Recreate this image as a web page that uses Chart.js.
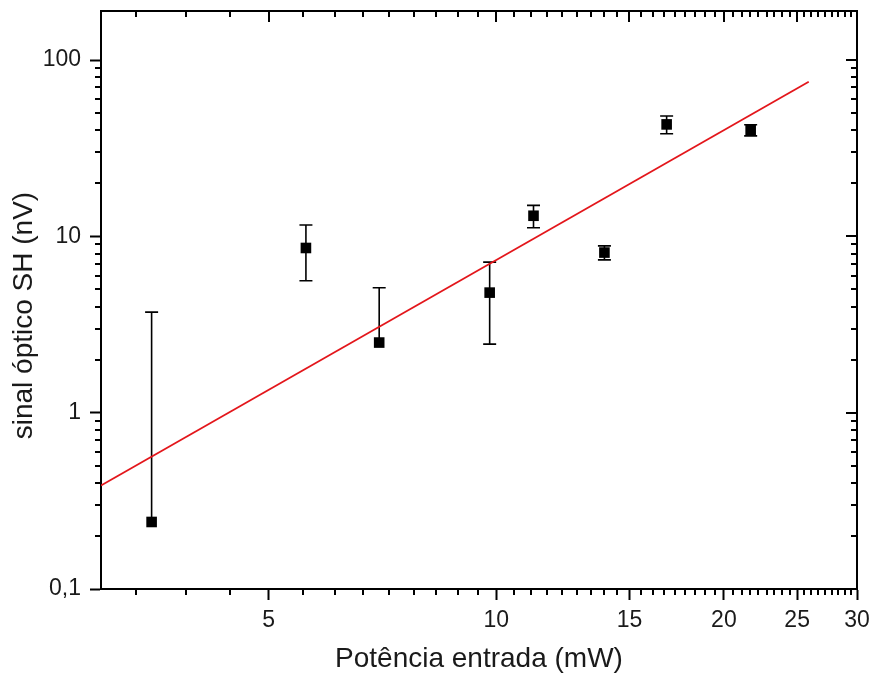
<!DOCTYPE html>
<html>
<head>
<meta charset="utf-8">
<title>Sinal SH x potencia</title>
<script src="https://cdn.jsdelivr.net/npm/chart.js@4.4.0/dist/chart.umd.min.js"></script>
<style>
  html, body { margin: 0; padding: 0; background: #fff; }
  canvas { display: block; }
</style>
</head>
<body>
<canvas id="grafico" width="869" height="676"></canvas>
<script>
// dados (log-log)
const potencia = [3.5, 5.6, 7.0, 9.8, 11.2, 13.9, 16.8, 21.7];
const sinal = [0.24, 8.6, 2.5, 4.8, 13.1, 8.1, 43.2, 40.1];
const erro = [3.48, 3.0, 2.62, 2.35, 1.9, 0.74, 5.0, 2.9];

// reta do ajuste (extremos)
const ajusteX = [3, 25.9];
const ajusteY = [0.386, 75.5];

const ticksX = [5, 10, 15, 20, 25, 30];
const ticksY = [0.1, 1, 10, 100];

const xMin = 3, xMax = 30;
const yMin = 0.1, yMax = 190;

const fonte = "'Liberation Sans', Arial, sans-serif";

// ticks menores: 8 entre cada major no eixo x, 2..9 por decada no y
const menoresX = [];
for (let i = 0; i < ticksX.length; i++) {
  for (let k = 1; k <= 8; k++) {
    const v = ticksX[i] + k * 5 / 9;
    if (v < xMax) menoresX.push(v);
    const w = ticksX[i] - k * 5 / 9;
    if (i === 0 && w > xMin) menoresX.push(w);
  }
}
const menoresY = [];
ticksY.forEach((d) => {
  for (let m = 2; m <= 9; m++) {
    if (d * m < yMax) menoresY.push(d * m);
  }
});

const pontos = potencia.map((x, i) => ({ x: x, y: sinal[i] }));
const reta = ajusteX.map((x, i) => ({ x: x, y: ajusteY[i] }));

const barrasErro = {
  id: "barrasErro",
  beforeDatasetsDraw(chart) {
    const ctx = chart.ctx;
    const sx = chart.scales.x, sy = chart.scales.y;
    const area = chart.chartArea;
    ctx.save();
    ctx.beginPath();
    ctx.rect(area.left, area.top, area.right - area.left, area.bottom - area.top);
    ctx.clip();
    ctx.strokeStyle = "#000";
    ctx.lineWidth = 1.6;
    pontos.forEach((p, i) => {
      const px = sx.getPixelForValue(p.x);
      const py = sy.getPixelForValue(p.y);
      const topo = sy.getPixelForValue(p.y + erro[i]);
      ctx.beginPath();
      ctx.moveTo(px, py);
      ctx.lineTo(px, topo);
      ctx.moveTo(px - 6.5, topo);
      ctx.lineTo(px + 6.5, topo);
      const inf = p.y - erro[i];
      if (inf > 0) {
        const base = sy.getPixelForValue(inf);
        ctx.moveTo(px, py);
        ctx.lineTo(px, base);
        ctx.moveTo(px - 6.5, base);
        ctx.lineTo(px + 6.5, base);
      }
      ctx.stroke();
    });
    ctx.restore();
  },
};

// moldura, ticks menores e ticks espelhados (topo/direita)
const moldura = {
  id: "moldura",
  afterDraw(chart) {
    const ctx = chart.ctx;
    const sx = chart.scales.x, sy = chart.scales.y;
    const a = chart.chartArea;
    ctx.save();
    ctx.strokeStyle = "#000";
    ctx.lineWidth = 2;
    ctx.beginPath();
    ctx.moveTo(a.left, a.top);
    ctx.lineTo(a.right, a.top);
    ctx.lineTo(a.right, a.bottom);
    ctx.stroke();

    ctx.beginPath();
    ticksX.forEach((v) => {
      const px = Math.round(sx.getPixelForValue(v));
      ctx.moveTo(px, a.top);
      ctx.lineTo(px, a.top + 11);
    });
    menoresX.forEach((v) => {
      const px = Math.round(sx.getPixelForValue(v));
      ctx.moveTo(px, a.bottom);
      ctx.lineTo(px, a.bottom + 6);
      ctx.moveTo(px, a.top);
      ctx.lineTo(px, a.top + 6);
    });
    ticksY.forEach((v) => {
      const py = Math.round(sy.getPixelForValue(v));
      ctx.moveTo(a.right, py);
      ctx.lineTo(a.right - 11, py);
    });
    menoresY.forEach((v) => {
      const py = Math.round(sy.getPixelForValue(v));
      ctx.moveTo(a.left, py);
      ctx.lineTo(a.left - 6, py);
      ctx.moveTo(a.right, py);
      ctx.lineTo(a.right - 6, py);
    });
    ctx.stroke();
    ctx.restore();
  },
};

new Chart(document.getElementById("grafico"), {
  type: "scatter",
  data: {
    datasets: [
      {
        label: "ajuste",
        type: "line",
        data: reta,
        borderColor: "#e3161b",
        borderWidth: 1.8,
        pointRadius: 0,
        fill: false,
        order: 0,
      },
      {
        label: "sinal",
        data: pontos,
        pointStyle: "rect",
        pointRadius: 7.5,
        pointHoverRadius: 7.5,
        backgroundColor: "#000",
        borderColor: "#000",
        borderWidth: 0,
        order: 1,
      },
    ],
  },
  options: {
    responsive: false,
    animation: false,
    devicePixelRatio: 1,
    layout: { padding: { top: 11, right: 12, left: 0, bottom: 0 } },
    plugins: {
      legend: { display: false },
      tooltip: { enabled: false },
    },
    scales: {
      x: {
        type: "logarithmic",
        min: xMin,
        max: xMax,
        afterBuildTicks: (s) => {
          s.ticks = ticksX.map((v) => ({ value: v }));
        },
        afterFit: (s) => {
          s.height = 87;
          s.paddingLeft = 0;
          s.paddingRight = 0;
        },
        ticks: {
          autoSkip: false,
          maxRotation: 0,
          padding: 7,
          color: "#1a1a1a",
          font: { family: fonte, size: 23 },
          callback: (v) => String(v),
        },
        grid: {
          drawOnChartArea: false,
          tickLength: 11,
          tickWidth: 2,
          color: "#000",
        },
        border: { display: true, color: "#000", width: 2 },
        title: {
          display: true,
          text: "Potência entrada (mW)",
          color: "#1a1a1a",
          font: { family: fonte, size: 28 },
          padding: { top: 0, bottom: 0 },
        },
      },
      y: {
        type: "logarithmic",
        min: yMin,
        max: yMax,
        afterBuildTicks: (s) => {
          s.ticks = ticksY.map((v) => ({ value: v }));
        },
        afterFit: (s) => {
          s.width = 101;
          s.paddingTop = 0;
          s.paddingBottom = 0;
        },
        ticks: {
          autoSkip: false,
          padding: 9,
          color: "#1a1a1a",
          font: { family: fonte, size: 23 },
          callback: (v) => String(v).replace(".", ","),
        },
        grid: {
          drawOnChartArea: false,
          tickLength: 11,
          tickWidth: 2,
          color: "#000",
        },
        border: { display: true, color: "#000", width: 2 },
        title: {
          display: true,
          // espacos no fim descem um pouco o titulo, como no original
          text: "sinal óptico SH (nV)    ",
          color: "#1a1a1a",
          font: { family: fonte, size: 28 },
          padding: { top: 7, bottom: 0 },
        },
      },
    },
  },
  plugins: [barrasErro, moldura],
});
</script>
</body>
</html>
